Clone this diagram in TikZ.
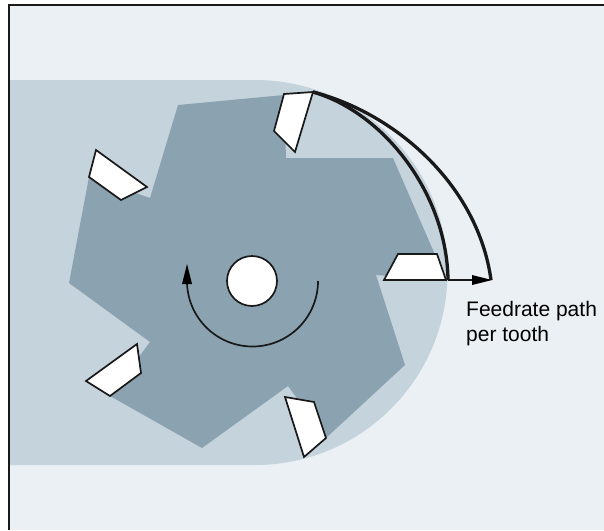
\documentclass[tikz,border=0pt]{standalone}
\usepackage{fontspec}
\setmainfont{Liberation Sans}
\definecolor{bgc}{HTML}{EAF0F4}
\definecolor{lightc}{HTML}{C5D3DC}
\definecolor{darkc}{HTML}{8BA3B0}
\tikzset{
  insert/.style={draw=black!90,fill=white,line width=1.7pt,line join=miter},
  feed/.style={draw=black!90,line width=3.3pt},
  lbl/.style={font=\fontsize{21}{25}\selectfont,inner sep=0pt,anchor=base west}
}
\begin{document}
\begin{tikzpicture}[x=1pt,y=-1pt]
\useasboundingbox (0,0) rectangle (604,530);
\fill[white] (0,0) rectangle (604,530);
\fill[bgc] (9,5) rectangle (604,530);
\fill[lightc] (10,80) -- (255,80) arc[start angle=-90,end angle=90,radius=192.5] -- (10,465) -- cycle;
\fill[darkc] (178,105) -- (284,95) -- (286,158) -- (393,158) -- (446,280) -- (376,275) -- (405,365) -- (326,438) -- (288,386) -- (202,448) -- (110,396) -- (150,342) -- (69,283) -- (89,177) -- (150,198) -- cycle;
\draw[insert] (284,94) -- (313,92) -- (295,152) -- (274,131) -- cycle;
\draw[insert] (384,280) -- (398,254) -- (437,254) -- (446,280) -- cycle;
\draw[insert] (96,150) -- (147,187) -- (121,200) -- (89,177) -- cycle;
\draw[insert] (137,344) -- (141,373) -- (110,396) -- (86,381) -- cycle;
\draw[insert] (285,397) -- (314,402) -- (326,438) -- (304,457) -- cycle;
\node[circle,draw=black!90,fill=white,line width=1.7pt,minimum size=50pt,inner sep=0pt] (hub) at (252,281) {};
\coordinate (tip) at (313,92);
\coordinate (inner) at (448,280);
\coordinate (outer) at (491,280);
\draw[line width=1.7pt,draw=black!90] (318,281) arc[start angle=0,end angle=180,radius=65.5];
\fill[black] (187,264) -- (192,284) -- (182,284) -- cycle;
\draw[feed] (tip) .. controls (385,113) and (447,195) .. (inner);
\draw[feed] (tip) .. controls (395,113) and (478,185) .. (outer);
\draw[line width=1.7pt,draw=black!90] (inner) -- (478,280);
\fill[black] (492,280) -- (472,275) -- (472,285) -- cycle;
\node[lbl] (label1) at (466,316.7) {Feedrate path};
\node[lbl] (label2) at (466,341.7) {per tooth};
\draw[black!90,line width=2pt] (9,530) -- (9,5) -- (604,5);
\end{tikzpicture}
\end{document}
